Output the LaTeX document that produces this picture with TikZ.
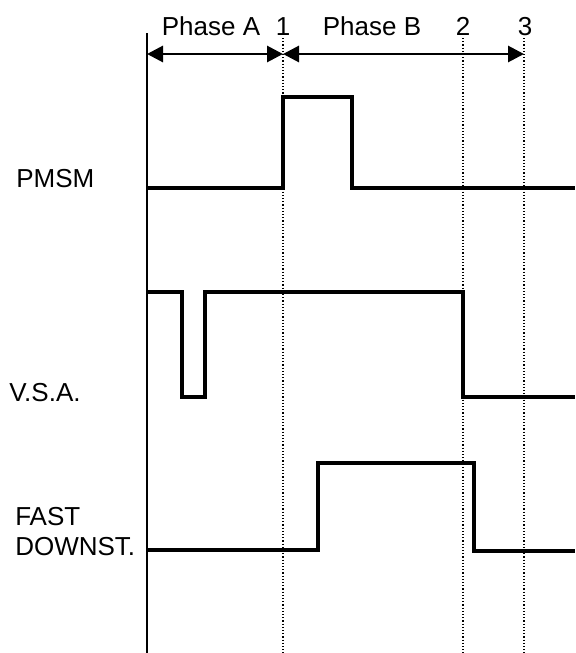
\documentclass[tikz,border=0pt]{standalone}
\usepackage{fontspec}
\setmainfont{Liberation Sans}
\usetikzlibrary{arrows.meta}

\begin{document}
\begin{tikzpicture}[
  x=0.75pt,
  y=-0.75pt,
  every node/.style={font=\fontsize{19.5}{23}\selectfont, inner sep=0pt},
  signal/.style={line width=3.2pt},
  axis/.style={line width=1.2pt},
  marker/.style={line width=0.9pt, dash pattern=on 0.9pt off 1.5pt},
  span/.style={line width=2.2pt, {Triangle[length=12pt,width=12pt]}-{Triangle[length=12pt,width=12pt]}}
]
  \useasboundingbox (0,0) rectangle (575,653);

  % time axis and markers
  \coordinate (t0) at (147,54);
  \coordinate (t1) at (283,54);
  \coordinate (t2) at (463,54);
  \coordinate (t3) at (524,54);
  \draw[axis] (147,33) -- (147,653);
  \draw[marker] (283,38) -- (283,653);
  \draw[marker] (463,38) -- (463,653);
  \draw[marker] (524,38) -- (524,653);

  % phase spans
  \draw[span] (t0) -- (t1);
  \draw[span] (t1) -- (t3);
  \node[anchor=base] (phaseA) at (211,35) {Phase A};
  \node[anchor=base] (mark1) at (283,35) {1};
  \node[anchor=base] (phaseB) at (372,35) {Phase B};
  \node[anchor=base] (mark2) at (463,35) {2};
  \node[anchor=base] (mark3) at (525,35) {3};

  % PMSM
  \node[anchor=base west] (pmsm) at (16,187) {PMSM};
  \draw[signal] (146,188) -- (283,188) -- (283,97) -- (352,97) -- (352,188) -- (575,188);

  % V.S.A.
  \node[anchor=base west] (vsa) at (9,401) {V.S.A.};
  \draw[signal] (146,292) -- (182,292) -- (182,397) -- (205,397) -- (205,292)
    -- (463,292) -- (463,397) -- (575,397);

  % FAST DOWNST.
  \node[anchor=base west] (fast) at (15,525) {FAST};
  \node[anchor=base west] (downst) at (15,555) {DOWNST.};
  \draw[signal] (146,550) -- (318,550) -- (318,463) -- (474,463) -- (474,551) -- (575,551);
\end{tikzpicture}
\end{document}
